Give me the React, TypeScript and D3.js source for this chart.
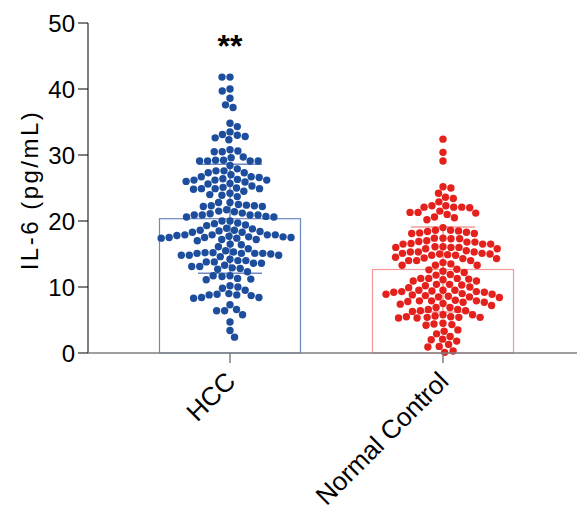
import React from 'react';
import * as d3 from 'd3';

const categories = ['HCC', 'Normal Control'];

// IL-6 per subject
const hccValues = [
  41.8, 41.8, 40.0, 39.7, 38.6, 37.6, 37.2, 34.8, 34.3,
  33.5, 33.0, 32.6, 32.3, 32.8, 33.1, 30.8, 30.5, 30.6, 30.5,
  29.7, 29.2, 29.1, 28.4, 29.1, 29.1, 29.1, 29.2, 29.6,
  27.6, 27.3, 27.0, 27.3, 27.6, 27.9,
  26.7, 26.4, 26.2, 26.2, 25.9, 25.6, 25.3, 25.7, 26.0, 26.2, 26.3, 26.6, 26.7,
  25.1, 24.9, 24.8, 24.5, 24.9, 24.9, 25.0, 24.0, 23.7, 23.9, 24.2,
  22.8, 22.5, 22.3, 22.2, 22.2, 22.3, 22.4, 22.8,
  21.5, 21.2, 20.9, 20.9, 20.7, 20.6, 20.6, 20.9, 20.9, 21.1, 21.4, 21.7,
  20.0, 19.7, 19.4, 18.9, 18.6, 18.4, 18.5, 18.6, 18.8, 19.3, 19.6, 20.0,
  18.3, 17.9, 17.9, 17.8, 17.6, 17.5, 17.4, 17.2, 17.0, 17.2, 17.4, 17.5, 17.5, 17.6, 17.7, 17.9, 17.9, 18.3,
  16.4, 15.8, 14.8, 14.6, 15.3, 15.2, 15.1, 15.1, 15.0, 15.1, 15.1, 15.2, 15.5, 16.1, 16.5, 14.8, 14.8,
  14.0, 13.8, 13.6, 13.3, 13.6, 13.8, 14.0, 14.2,
  13.1, 12.9, 12.7, 12.3, 12.8, 13.1,
  11.3, 11.1, 11.7, 11.7, 11.2, 11.6, 10.0, 10.2,
  9.8, 9.0, 8.8, 8.7, 8.4, 8.3, 8.4, 8.8, 8.9, 9.5,
  7.3, 6.6, 6.4, 5.8, 6.4, 4.7, 3.4, 2.4,
];

const controlValues = [
  32.4, 30.4, 29.1, 25.0, 25.2, 24.2, 23.4, 23.6, 22.9,
  22.3, 22.1, 22.1, 22.0, 22.1, 22.3, 21.3, 21.2, 21.0, 21.3, 21.5,
  20.6, 20.2, 20.5,
  18.6, 18.5, 18.3, 18.1, 18.1, 18.2, 18.4, 18.6, 19.0,
  17.4, 17.3, 16.9, 16.8, 16.5, 16.5, 16.5, 16.6, 16.8, 17.0, 17.4, 17.3,
  16.1, 16.0, 16.0, 15.8, 15.3, 15.3, 15.1, 15.0, 14.8, 14.8, 14.9, 15.0, 15.1, 15.3, 15.5, 15.8, 16.0, 16.1,
  14.5, 14.3, 14.0, 13.7, 13.3, 13.3, 13.3, 13.5, 14.0, 14.0, 14.3, 14.4,
  12.7, 12.2, 11.8, 11.9, 12.4, 12.6,
  11.3, 11.2, 10.9, 10.4, 10.3, 10.0, 10.2, 10.4, 10.9, 11.1, 11.3, 11.3,
  9.5, 9.5, 9.3, 9.2, 9.0, 8.9, 8.7, 8.5, 8.5, 8.6, 8.8, 8.9, 9.2, 9.3, 9.4, 9.5, 9.9, 8.4,
  7.9, 7.9, 7.7, 7.4, 6.9, 6.9, 7.2, 7.5, 7.7, 7.8, 8.0, 7.9,
  6.6, 6.4, 5.8, 5.5, 5.4, 5.4, 5.3, 5.3, 5.4, 5.5, 5.6, 5.8, 6.3, 6.4, 6.6,
  4.4, 4.2, 4.3, 4.5,
  3.3, 3.5, 2.9, 2.5, 2.0, 1.8, 2.1, 1.3, 0.9, 1.0, 0.3, 0.1,
];

// bar = mean, whiskers = mean ± SD
const means = [20.35, 12.65];
const sds = [8.25, 6.45];

const dotColors = ['#1d4e9e', '#e5211d'];
const barColors = ['#7088c0', '#f29a98'];
const yTicks = [0, 10, 20, 30, 40, 50];

const W = 577;
const H = 521;
const font = 'Liberation Sans, Arial, sans-serif';

// simple greedy beeswarm: each point goes to the free spot closest to the centre
function swarm(vals: number[], y: (v: number) => number, d: number) {
  const order = vals.map((v, i) => i).sort((a, b) => vals[b] - vals[a]);
  const placed: { x: number; y: number }[] = [];
  const out: { x: number; y: number }[] = new Array(vals.length);
  order.forEach((i, k) => {
    const py = y(vals[i]);
    const near = placed.filter(p => Math.abs(p.y - py) < d);
    const cands = [0];
    near.forEach(p => {
      const dx = Math.sqrt(d * d - (p.y - py) ** 2);
      cands.push(p.x + dx, p.x - dx);
    });
    const ok = cands.filter(cx =>
      near.every(p => (p.x - cx) ** 2 + (p.y - py) ** 2 >= d * d - 0.01)
    );
    ok.sort((a, b) => Math.abs(a) - Math.abs(b) || (k % 2 ? a - b : b - a));
    const pt = { x: ok[0], y: py };
    placed.push(pt);
    out[i] = pt;
  });
  return out;
}

export default function App() {
  const y = d3.scaleLinear().domain([0, 50]).range([353, 23]);
  const x = d3.scalePoint<string>().domain(categories).range([230, 443]);
  const barW = 141;
  const capW = 64;
  const groups = [hccValues, controlValues];

  return (
    <svg width={W} height={H} style={{ position: 'absolute', left: 0, top: 0, background: '#fff' }}>
      {/* y axis */}
      <line x1={88} x2={88} y1={y(50)} y2={y(0)} stroke="#000" strokeWidth={1} />
      {yTicks.map(t => (
        <g key={t}>
          <line x1={78} x2={88} y1={y(t)} y2={y(t)} stroke="#000" strokeWidth={1} />
          <text x={75} y={y(t)} dy="0.36em" textAnchor="end" fontFamily={font} fontSize={24}>
            {t}
          </text>
        </g>
      ))}
      <text
        transform={`translate(29,${190}) rotate(-90)`}
        textAnchor="middle"
        dy="0.36em"
        fontFamily={font}
        fontSize={24}
        letterSpacing={2.5}
      >
        IL-6 (pg/mL)
      </text>

      {categories.map((c, gi) => {
        const cx = x(c) as number;
        const m = means[gi];
        const sd = sds[gi];
        const pts = swarm(groups[gi], y, 8.0);
        return (
          <g key={c}>
            <rect
              x={cx - barW / 2}
              y={y(m)}
              width={barW}
              height={y(0) - y(m)}
              fill="none"
              stroke={barColors[gi]}
              strokeWidth={1.2}
            />
            <line x1={cx} x2={cx} y1={y(m + sd)} y2={y(m - sd)} stroke={barColors[gi]} strokeWidth={1.5} />
            <line x1={cx - capW / 2} x2={cx + capW / 2} y1={y(m + sd)} y2={y(m + sd)} stroke={barColors[gi]} strokeWidth={1.5} />
            <line x1={cx - capW / 2} x2={cx + capW / 2} y1={y(m - sd)} y2={y(m - sd)} stroke={barColors[gi]} strokeWidth={1.5} />
            {pts.map((p, i) => (
              <circle key={i} cx={cx + p.x} cy={p.y} r={3.7} fill={dotColors[gi]} />
            ))}
          </g>
        );
      })}

      {/* x axis */}
      <line x1={88} x2={W} y1={y(0)} y2={y(0)} stroke="#7f7f7f" strokeWidth={1.5} />
      {categories.map(c => (
        <g key={c}>
          <line x1={x(c)} x2={x(c)} y1={y(0)} y2={y(0) + 10} stroke="#7f7f7f" strokeWidth={1.5} />
          <text
            transform={`translate(${(x(c) as number) + 7},${y(0) + 30}) rotate(-45)`}
            textAnchor="end"
            fontFamily={font}
            fontSize={26}
          >
            {c}
          </text>
        </g>
      ))}

      <text x={x('HCC')} y={57} textAnchor="middle" fontFamily={font} fontSize={32} fontWeight="bold">
        **
      </text>
    </svg>
  );
}
